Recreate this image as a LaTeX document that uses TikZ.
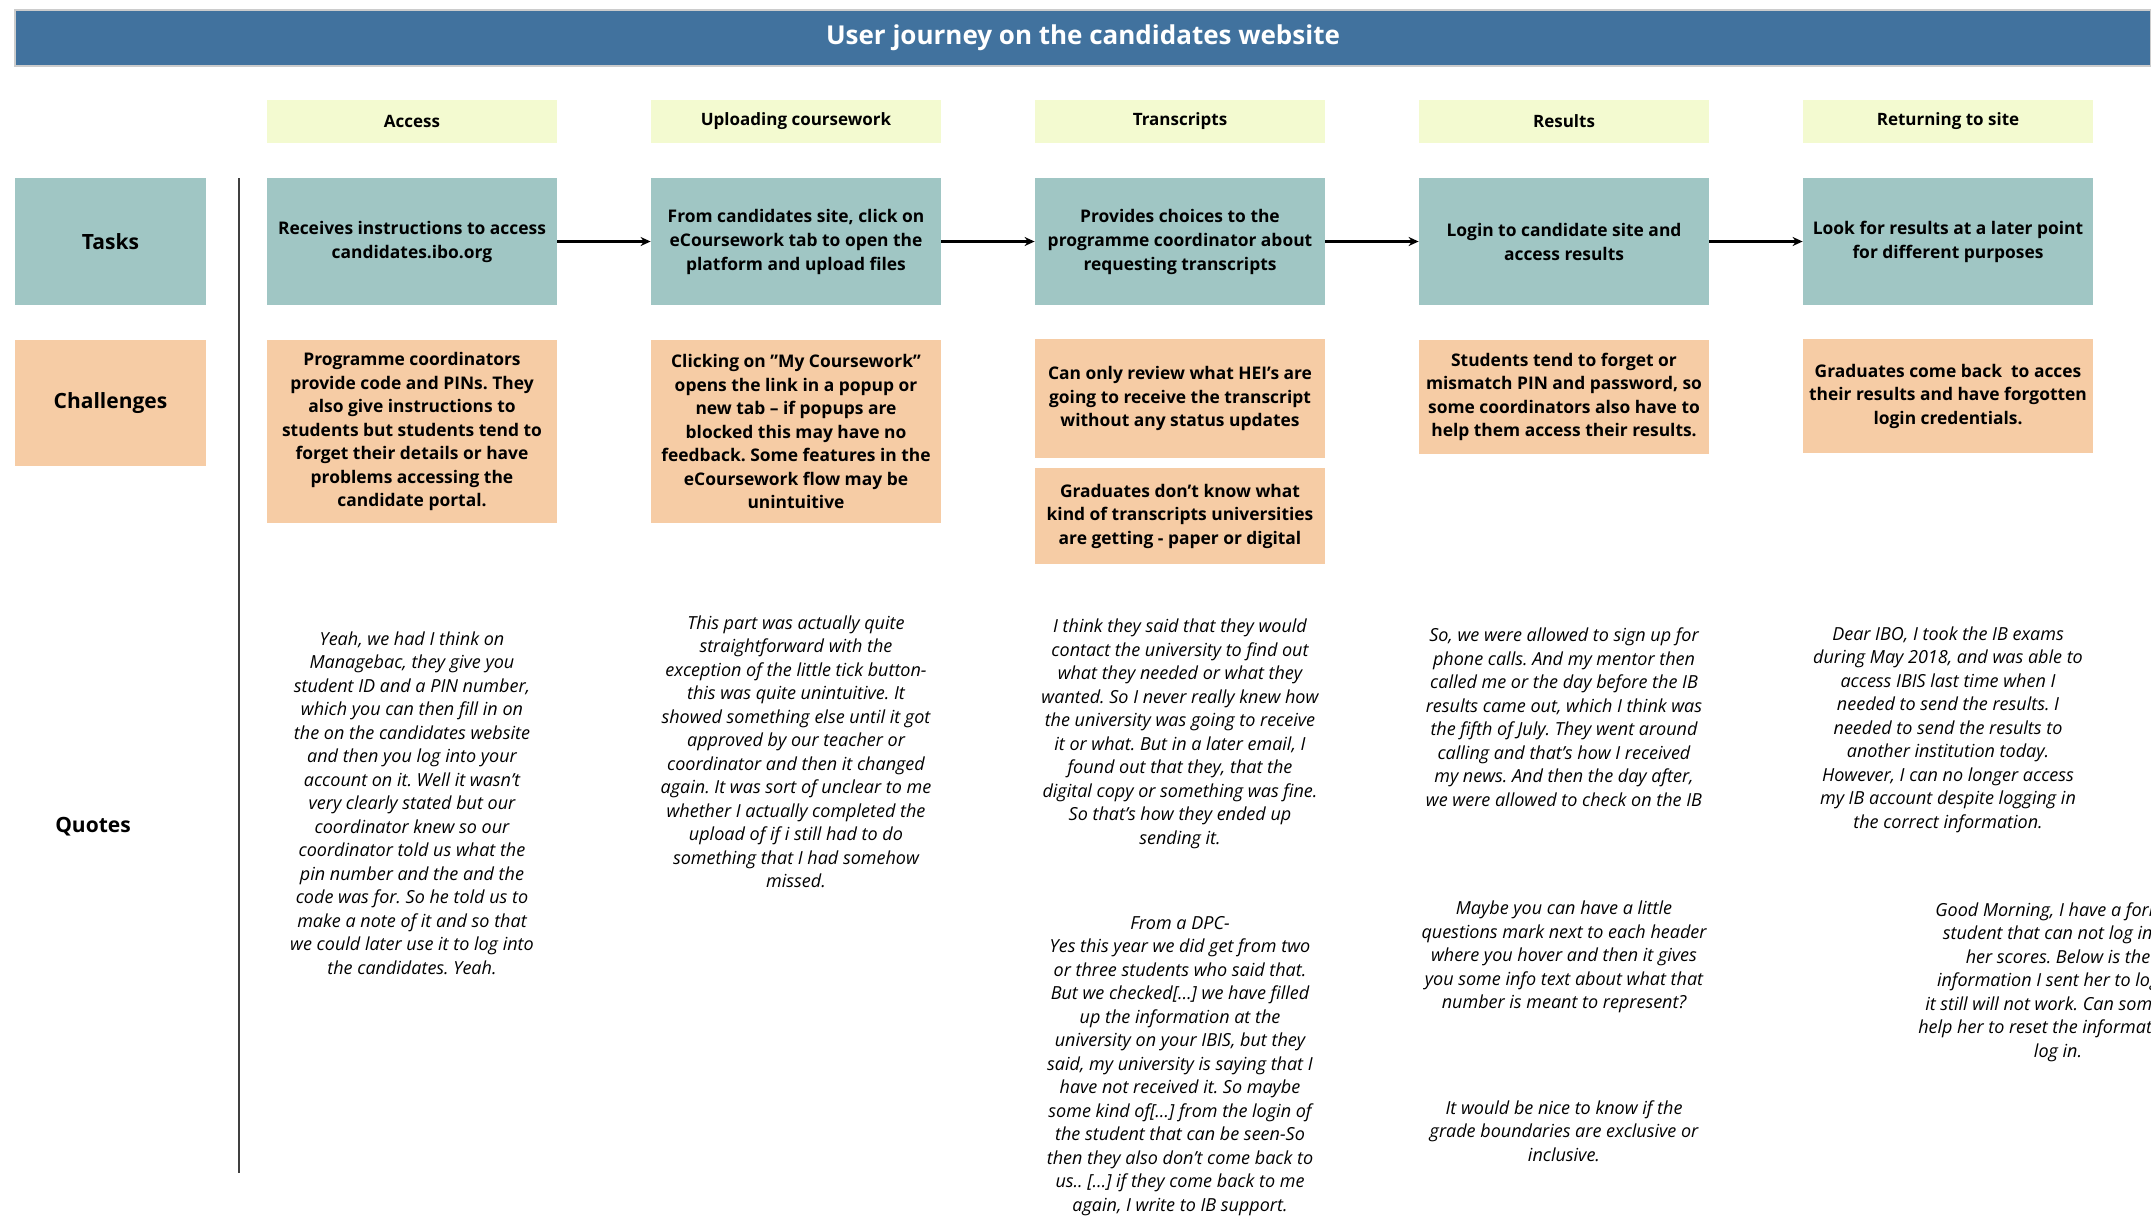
\documentclass[tikz,border=0pt]{standalone}
\usepackage{fontspec}
\setmainfont{Open Sans}
\frenchspacing
\usetikzlibrary{arrows.meta}

\definecolor{barblue}{RGB}{65,114,158}
\definecolor{taskteal}{RGB}{160,198,196}
\definecolor{hurdleorange}{RGB}{246,204,165}
\definecolor{phaselime}{RGB}{243,250,208}

\tikzset{
  phase/.style={fill=phaselime, minimum width=145pt, minimum height=21.5pt, inner sep=0pt,
    font=\fontsize{8.5}{10}\selectfont\bfseries},
  task/.style={fill=taskteal, minimum width=145pt, minimum height=63.5pt, inner sep=2pt,
    align=center, font=\fontsize{8.7}{12}\selectfont\bfseries},
  hurdle/.style={fill=hurdleorange, minimum width=145pt, inner sep=2pt,
    align=center, font=\fontsize{8.7}{11.75}\selectfont\bfseries},
  rowlabel/.style={minimum width=95.5pt, minimum height=63.5pt, inner sep=0pt,
    font=\fontsize{10.5}{12}\selectfont\bfseries},
  saying/.style={align=center, inner sep=0pt, font=\fontsize{9}{11.75}\selectfont\itshape},
  flow/.style={-{Stealth[length=5pt,width=4.5pt]}, line width=1.2pt},
}

\begin{document}
\begin{tikzpicture}[x=0.5pt, y=-0.5pt]
			%%%%% FRAME %%%%%
			\useasboundingbox (0,0) rectangle (2151,1216);
			\clip (0,0) rectangle (2151,1216);
			
			\node[fill=barblue, draw=black!20, line width=0.6pt, minimum width=1068pt, minimum height=28pt,
			  text=white, font=\fontsize{13}{15}\selectfont\bfseries] (title) at (1083, 38)
			  {User journey on the candidates website};
			
			%%%%% PHASES %%%%%
			\node[phase] (ph1) at (412, 121.5) {Access};
			\node[phase] (ph2) at (796, 121.5) {Uploading coursework};
			\node[phase] (ph3) at (1180, 121.5) {Transcripts};
			\node[phase] (ph4) at (1564, 121.5) {Results};
			\node[phase] (ph5) at (1948, 121.5) {Returning to site};
			
			%%%%% ROW LABELS %%%%%
			\node[rowlabel, fill=taskteal] (tasks) at (110.5, 241.5) {Tasks};
			\node[rowlabel, fill=hurdleorange, minimum height=63pt] (challenges) at (110.5, 403) {Challenges};
			\node[rowlabel] (quotes) at (93, 827) {Quotes};
			
			\draw[line width=1pt, color=black!75] (239, 178) -- (239, 1173);
			
			%%%%% TASKS %%%%%
			\node[task] (t1) at (412, 241.5) {Receives instructions to access\\candidates.ibo.org};
			\node[task] (t2) at (796, 241.5) {From candidates site, click on\\eCoursework tab to open the\\platform and upload files};
			\node[task] (t3) at (1180, 241.5) {Provides choices to the\\programme coordinator about\\requesting transcripts};
			\node[task] (t4) at (1564, 241.5) {Login to candidate site and\\access results};
			\node[task] (t5) at (1948, 241.5) {Look for results at a later point\\for different purposes};
			
			\draw[flow] (t1) -- (t2);
			\draw[flow] (t2) -- (t3);
			\draw[flow] (t3) -- (t4);
			\draw[flow] (t4) -- (t5);
			
			%%%%% CHALLENGES %%%%%
			\node[hurdle, minimum height=91.5pt] (c1) at (412, 431.5) {Programme coordinators\\provide code and PINs. They\\also give instructions to\\students but students tend to\\forget their details or have\\problems accessing the\\candidate portal.};
			\node[hurdle, minimum height=91.5pt] (c2) at (796, 431.5) {Clicking on "My Coursework"\\opens the link in a popup or\\new tab -- if popups are\\blocked this may have no\\feedback. Some features in the\\eCoursework flow may be\\unintuitive};
			\node[hurdle, minimum height=59.5pt] (c3a) at (1180, 398.5) {Can only review what HEI's are\\going to receive the transcript\\without any status updates};
			\node[hurdle, minimum height=48pt] (c3b) at (1180, 516) {Graduates don't know what\\kind of transcripts universities\\are getting - paper or digital};
			\node[hurdle, minimum height=57pt] (c4) at (1564, 397) {Students tend to forget or\\mismatch PIN and password, so\\some coordinators also have to\\help them access their results.};
			\node[hurdle, minimum height=57pt] (c5) at (1948, 396) {Graduates come back\ \ to acces\\their results and have forgotten\\login credentials.};
			
			%%%%% QUOTES %%%%%
			\node[saying] (q1) at (412, 803) {Yeah, we had I think on\\Managebac, they give you\\student ID and a PIN number,\\which you can then fill in on\\the on the candidates website\\and then you log into your\\account on it. Well it wasn't\\very clearly stated but our\\coordinator knew so our\\coordinator told us what the\\pin number and the and the\\code was for. So he told us to\\make a note of it and so that\\we could later use it to log into\\the candidates. Yeah.};
			\node[saying] (q2) at (796, 752) {This part was actually quite\\straightforward with the\\exception of the little tick button-\\this was quite unintuitive. It\\showed something else until it got\\approved by our teacher or\\coordinator and then it changed\\again. It was sort of unclear to me\\whether I actually completed the\\upload of if i still had to do\\something that I had somehow\\missed.};
			\node[saying] (q3a) at (1180, 734) {I think they said that they would\\contact the university to find out\\what they needed or what they\\wanted. So I never really knew how\\the university was going to receive\\it or what. But in a later email, I\\found out that they, that the\\digital copy or something was fine.\\So that's how they ended up\\sending it.};
			\node[saying] (q3b) at (1180, 1066) {From a DPC-\\Yes this year we did get from two\\or three students who said that.\\But we checked[…] we have filled\\up the information at the\\university on your IBIS, but they\\said, my university is saying that I\\have not received it. So maybe\\some kind of[…] from the login of\\the student that can be seen-So\\then they also don't come back to\\us.. […] if they come back to me\\again, I write to IB support.};
			\node[saying] (q4a) at (1564, 717) {So, we were allowed to sign up for\\phone calls. And my mentor then\\called me or the day before the IB\\results came out, which I think was\\the fifth of July. They went around\\calling and that's how I received\\my news. And then the day after,\\we were allowed to check on the IB};
			\node[saying] (q4b) at (1564, 957) {Maybe you can have a little\\questions mark next to each header\\where you hover and then it gives\\you some info text about what that\\number is meant to represent?};
			\node[saying] (q4c) at (1564, 1131) {It would be nice to know if the\\grade boundaries are exclusive or\\inclusive.};
			\node[saying] (q5a) at (1948, 729.5) {Dear IBO, I took the IB exams\\during May 2018, and was able to\\access IBIS last time when I\\needed to send the results. I\\needed to send the results to\\another institution today.\\However, I can no longer access\\my IB account despite logging in\\the correct information.};
			\node[saying] (q5b) at (2058, 982) {Good Morning, I have a former\\student that can not log in to\\her scores. Below is the\\information I sent her to log in\\it still will not work. Can someone\\help her to reset the information to\\log in.};
			
			%%%%% END %%%%%
\end{tikzpicture}
\end{document}
